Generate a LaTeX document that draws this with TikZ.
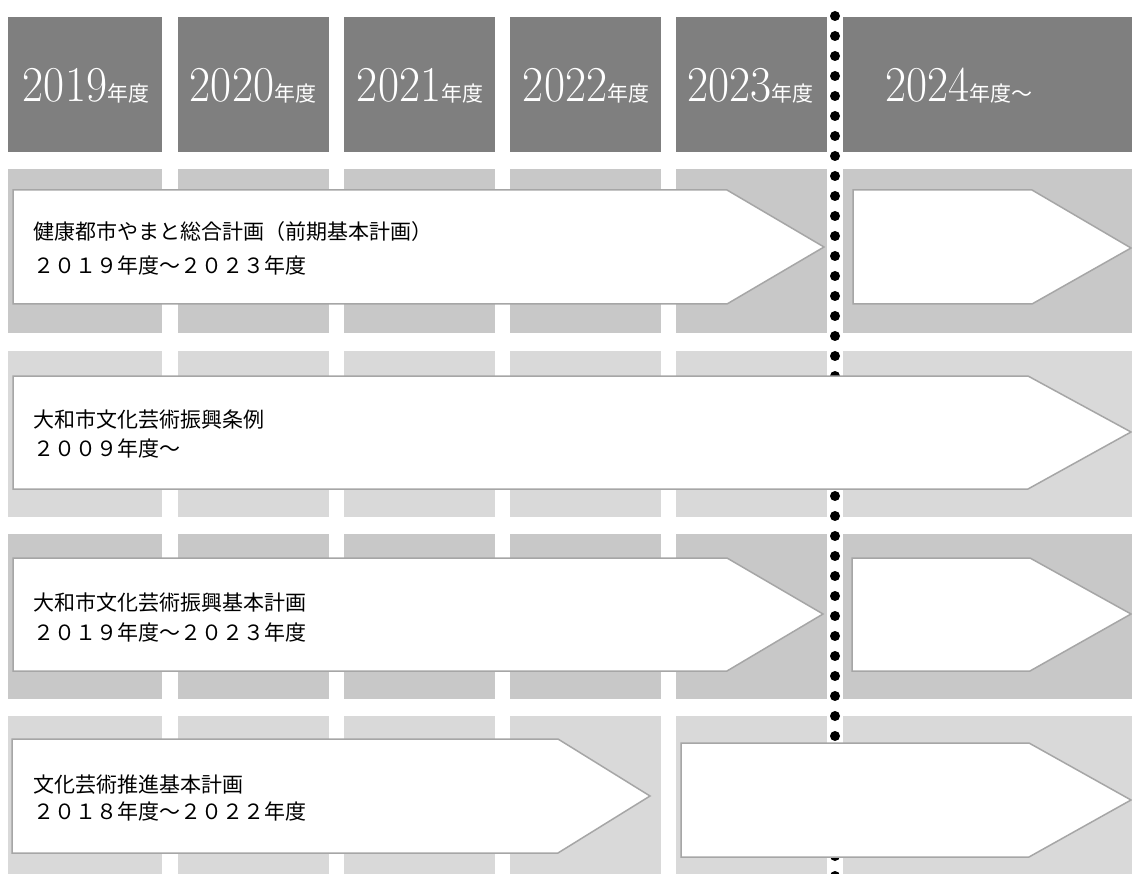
\documentclass[tikz,border=0pt]{standalone}
\usepackage{fontspec}
\usepackage{graphicx}
\newfontfamily\cjk{Noto Sans CJK JP}
\definecolor{hdr}{HTML}{7F7F7F}
\definecolor{bandA}{HTML}{C8C8C8}
\definecolor{bandB}{HTML}{D9D9D9}
\definecolor{edgegray}{HTML}{A6A6A6}
\newcommand{\yr}[2]{\scalebox{1.04}[1.14]{\fontsize{44}{44}\selectfont #1}{\cjk\fontsize{21}{21}\selectfont #2}}
\begin{document}
\begin{tikzpicture}[x=1pt,y=-1pt,
  arrowbox/.style={draw=edgegray,fill=white,line width=1.5pt,line join=miter},
  lbl/.style={anchor=west,inner sep=0pt,font=\cjk\fontsize{21}{21}\selectfont},
  hd/.style={inner sep=0pt,text=white}]
\useasboundingbox (0,0) rectangle (1132,874);
\fill[white] (0,0) rectangle (1132,874);
% header cells and row bands
\foreach \a/\b in {8/162,178/329,344/495,510/661,676/827,843/1132}{
  \fill[hdr] (\a,17) rectangle (\b,152);
  \fill[bandA] (\a,169) rectangle (\b,333);
  \fill[bandB] (\a,351) rectangle (\b,517);
  \fill[bandA] (\a,534) rectangle (\b,699);
  \fill[bandB] (\a,716) rectangle (\b,874);
}
% header labels
\node[hd] (h1) at (86,86) {\yr{2019}{年度}};
\node[hd] (h2) at (253,86) {\yr{2020}{年度}};
\node[hd] (h3) at (420,86) {\yr{2021}{年度}};
\node[hd] (h4) at (586,86) {\yr{2022}{年度}};
\node[hd] (h5) at (750,86) {\yr{2023}{年度}};
\node[hd] (h6) at (959,86) {\yr{2024}{年度～}};
% dotted divider
\foreach \k in {0,...,43}{
  \fill[black] (835,{16+20*\k}) circle (5);
}
% row 1
\draw[arrowbox] (13,190) -- (727,190) -- (824,247) -- (727,304) -- (13,304) -- cycle;
\draw[arrowbox] (853,190) -- (1032,190) -- (1131,248) -- (1032,304) -- (853,304) -- cycle;
\node[lbl] (r1a) at (33,232) {健康都市やまと総合計画（前期基本計画）};
\node[lbl] (r1b) at (33,266) {２０１９年度～２０２３年度};
% row 2
\draw[arrowbox] (13,376) -- (1028,376) -- (1131,432) -- (1028,489) -- (13,489) -- cycle;
\node[lbl] (r2a) at (33,420) {大和市文化芸術振興条例};
\node[lbl] (r2b) at (33,448) {２００９年度～};
% row 3
\draw[arrowbox] (13,558) -- (727,558) -- (823,614) -- (727,671) -- (13,671) -- cycle;
\draw[arrowbox] (852,558) -- (1030,558) -- (1131,614) -- (1030,671) -- (852,671) -- cycle;
\node[lbl] (r3a) at (33,603) {大和市文化芸術振興基本計画};
\node[lbl] (r3b) at (33,632) {２０１９年度～２０２３年度};
% row 4
\draw[arrowbox] (12,739) -- (558,739) -- (650,796) -- (558,853) -- (12,853) -- cycle;
\draw[arrowbox] (681,743) -- (1029,743) -- (1131,800) -- (1029,857) -- (681,857) -- cycle;
\node[lbl] (r4a) at (33,785) {文化芸術推進基本計画};
\node[lbl] (r4b) at (33,811) {２０１８年度～２０２２年度};
\end{tikzpicture}
\end{document}
